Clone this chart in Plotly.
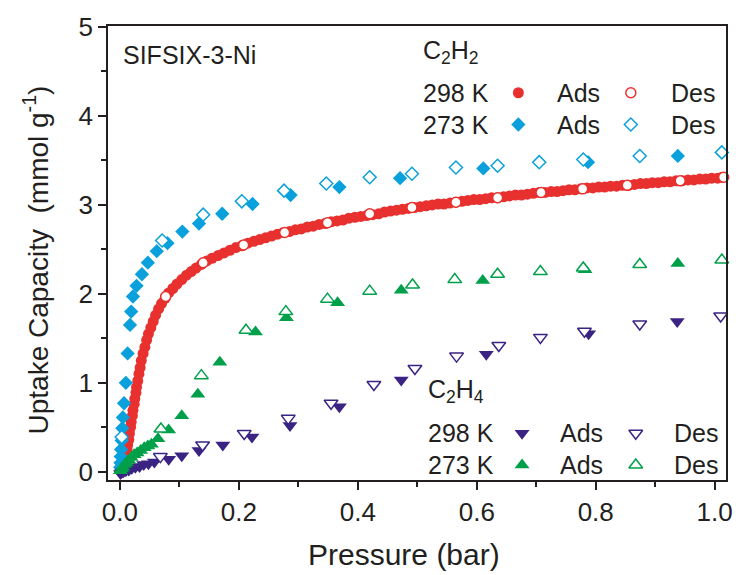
import plotly.graph_objects as go

# ---------------- data ----------------
# C2H2 298 K adsorption (dense)
c2h2_298_ads_p = [0.001, 0.002, 0.003, 0.004, 0.005, 0.006, 0.007, 0.008, 0.009, 0.010,
                  0.012, 0.013, 0.015, 0.016, 0.018, 0.019, 0.021, 0.022, 0.024, 0.025,
                  0.027, 0.028, 0.030, 0.032, 0.034, 0.036, 0.039, 0.042, 0.045, 0.048,
                  0.052, 0.056, 0.060, 0.065, 0.070, 0.076, 0.082, 0.089, 0.096, 0.104,
                  0.112, 0.120, 0.128, 0.137, 0.146, 0.155, 0.165, 0.175, 0.185, 0.195,
                  0.205, 0.215, 0.225, 0.235, 0.245, 0.255, 0.265, 0.275, 0.285, 0.295,
                  0.305, 0.315, 0.325, 0.335, 0.345, 0.355, 0.365, 0.375, 0.385, 0.395,
                  0.405, 0.415, 0.425, 0.435, 0.445, 0.455, 0.465, 0.475, 0.485, 0.495,
                  0.505, 0.515, 0.525, 0.535, 0.545, 0.555, 0.565, 0.575, 0.585, 0.595,
                  0.605, 0.615, 0.625, 0.635, 0.645, 0.655, 0.665, 0.675, 0.685, 0.695,
                  0.705, 0.715, 0.725, 0.735, 0.745, 0.755, 0.765, 0.775, 0.785, 0.795,
                  0.805, 0.815, 0.825, 0.835, 0.845, 0.855, 0.865, 0.875, 0.885, 0.895,
                  0.905, 0.915, 0.925, 0.935, 0.945, 0.955, 0.965, 0.975, 0.985, 0.995,
                  1.005, 1.012]
c2h2_298_ads_u = [0.01, 0.02, 0.03, 0.05, 0.06, 0.08, 0.10, 0.13, 0.16, 0.20,
                  0.25, 0.30, 0.36, 0.43, 0.50, 0.56, 0.63, 0.69, 0.76, 0.82,
                  0.89, 0.95, 1.02, 1.10, 1.17, 1.25, 1.33, 1.40, 1.48, 1.55,
                  1.62, 1.69, 1.76, 1.83, 1.89, 1.95, 2.01, 2.06, 2.11, 2.16,
                  2.21, 2.25, 2.29, 2.33, 2.37, 2.40, 2.43, 2.46, 2.49, 2.52,
                  2.54, 2.57, 2.59, 2.61, 2.63, 2.65, 2.67, 2.69, 2.70, 2.72,
                  2.73, 2.75, 2.76, 2.78, 2.79, 2.81, 2.82, 2.83, 2.85, 2.86,
                  2.87, 2.88, 2.89, 2.90, 2.92, 2.93, 2.94, 2.95, 2.96, 2.97,
                  2.98, 2.99, 3.00, 3.01, 3.01, 3.02, 3.03, 3.04, 3.05, 3.06,
                  3.06, 3.07, 3.08, 3.08, 3.09, 3.10, 3.11, 3.11, 3.12, 3.13,
                  3.14, 3.14, 3.15, 3.15, 3.16, 3.17, 3.17, 3.18, 3.19, 3.19,
                  3.20, 3.20, 3.21, 3.21, 3.22, 3.22, 3.23, 3.24, 3.24, 3.25,
                  3.25, 3.26, 3.26, 3.27, 3.27, 3.28, 3.28, 3.29, 3.29, 3.30,
                  3.30, 3.31]
c2h2_298_des_p = [1.015, 0.942, 0.853, 0.778, 0.708, 0.635, 0.565, 0.491, 0.420, 0.349,
                  0.277, 0.208, 0.140, 0.077]
c2h2_298_des_u = [3.31, 3.27, 3.22, 3.18, 3.14, 3.08, 3.03, 2.97, 2.90, 2.80,
                  2.69, 2.55, 2.35, 1.97]

# C2H2 273 K
c2h2_273_ads_p = [0.0005, 0.001, 0.0015, 0.002, 0.003, 0.004, 0.005, 0.007, 0.010, 0.013,
                  0.017, 0.019, 0.022, 0.028, 0.037, 0.047, 0.062, 0.080, 0.105, 0.133,
                  0.172, 0.223, 0.287, 0.369, 0.471, 0.611, 0.787, 0.938]
c2h2_273_ads_u = [0.05, 0.10, 0.17, 0.25, 0.35, 0.49, 0.61, 0.77, 1.00, 1.33,
                  1.65, 1.80, 1.97, 2.09, 2.22, 2.35, 2.48, 2.57, 2.70, 2.79,
                  2.90, 3.01, 3.11, 3.20, 3.30, 3.41, 3.48, 3.55]
c2h2_273_des_p = [1.012, 0.874, 0.779, 0.705, 0.635, 0.565, 0.491, 0.420, 0.347, 0.276,
                  0.205, 0.140, 0.071, 0.003]
c2h2_273_des_u = [3.59, 3.55, 3.51, 3.48, 3.44, 3.42, 3.35, 3.31, 3.24, 3.16,
                  3.04, 2.89, 2.60, 0.39]

# C2H4 298 K
c2h4_298_ads_p = [0.001, 0.003, 0.006, 0.010, 0.015, 0.020, 0.026, 0.033, 0.040, 0.048,
                  0.058, 0.082, 0.104, 0.133, 0.173, 0.222, 0.286, 0.369, 0.473, 0.616,
                  0.788, 0.937]
c2h4_298_ads_u = [-0.02, -0.01, 0.00, 0.01, 0.02, 0.04, 0.05, 0.06, 0.08, 0.09,
                  0.11, 0.14, 0.18, 0.24, 0.30, 0.39, 0.52, 0.73, 1.03, 1.32,
                  1.55, 1.69]
c2h4_298_des_p = [1.010, 0.874, 0.781, 0.707, 0.637, 0.566, 0.496, 0.427, 0.355, 0.283,
                  0.209, 0.139, 0.068]
c2h4_298_des_u = [1.75, 1.66, 1.58, 1.51, 1.42, 1.30, 1.16, 0.98, 0.77, 0.60,
                  0.43, 0.30, 0.17]

# C2H4 273 K
c2h4_273_ads_p = [0.001, 0.003, 0.005, 0.008, 0.011, 0.015, 0.019, 0.024, 0.029, 0.035,
                  0.041, 0.047, 0.053, 0.064, 0.082, 0.104, 0.131, 0.168, 0.228, 0.280,
                  0.366, 0.473, 0.610, 0.782, 0.938]
c2h4_273_ads_u = [0.01, 0.03, 0.05, 0.08, 0.10, 0.13, 0.16, 0.19, 0.21, 0.24,
                  0.27, 0.29, 0.31, 0.37, 0.47, 0.63, 0.87, 1.23, 1.57, 1.73,
                  1.90, 2.04, 2.15, 2.27, 2.34]
c2h4_273_des_p = [1.012, 0.874, 0.779, 0.707, 0.635, 0.563, 0.492, 0.420, 0.349, 0.279,
                  0.212, 0.137, 0.069]
c2h4_273_des_u = [2.38, 2.33, 2.29, 2.25, 2.22, 2.16, 2.10, 2.03, 1.94, 1.80,
                  1.59, 1.08, 0.48]

x_ticks = [0.0, 0.2, 0.4, 0.6, 0.8, 1.0]
x_tick_labels = ["0.0", "0.2", "0.4", "0.6", "0.8", "1.0"]
y_ticks = [0, 1, 2, 3, 4, 5]
y_tick_labels = ["0", "1", "2", "3", "4", "5"]

# ---------------- styles ----------------
RED = "#E8312F"
BLUE = "#0AA0DC"
GREEN = "#00A04A"
PURPLE = "#3A2382"
TXT = "#231F20"
FONT = "Arial, Liberation Sans, sans-serif"

fig = go.Figure()


def add(p, u, symbol, color, filled, size):
    fig.add_trace(go.Scatter(
        x=p, y=u, mode="markers", cliponaxis=False, showlegend=False,
        marker=dict(symbol=symbol, size=size,
                    color=color if filled else "white",
                    line=dict(color=color, width=0 if filled else 1.5))))


add(c2h2_298_ads_p, c2h2_298_ads_u, "circle", RED, True, 11)
add(c2h2_298_des_p, c2h2_298_des_u, "circle", RED, False, 10)
add(c2h2_273_ads_p, c2h2_273_ads_u, "diamond", BLUE, True, 11)
add(c2h2_273_des_p, c2h2_273_des_u, "diamond", BLUE, False, 10)
add(c2h4_298_ads_p, c2h4_298_ads_u, "triangle-down", PURPLE, True, 13)
add(c2h4_298_des_p, c2h4_298_des_u, "triangle-down", PURPLE, False, 12)
add(c2h4_273_ads_p, c2h4_273_ads_u, "triangle-up", GREEN, True, 13)
add(c2h4_273_des_p, c2h4_273_des_u, "triangle-up", GREEN, False, 12)

# legend-like key markers on an overlay axis (fractions of plot area)
key_items = [
    (0.664, 0.853, "circle", RED, True, 11),
    (0.846, 0.853, "circle", RED, False, 10),
    (0.664, 0.783, "diamond", BLUE, True, 11),
    (0.846, 0.783, "diamond", BLUE, False, 10),
    (0.670, 0.103, "triangle-down", PURPLE, True, 13),
    (0.854, 0.103, "triangle-down", PURPLE, False, 12),
    (0.670, 0.033, "triangle-up", GREEN, True, 13),
    (0.854, 0.033, "triangle-up", GREEN, False, 12),
]
for kx, ky, sym, col, filled, sz in key_items:
    fig.add_trace(go.Scatter(
        x=[kx], y=[ky], xaxis="x2", yaxis="y2", mode="markers",
        showlegend=False, cliponaxis=False,
        marker=dict(symbol=sym, size=sz, color=col if filled else "white",
                    line=dict(color=col, width=0 if filled else 1.5))))

axis_common = dict(
    showline=True, linecolor="#231F20", linewidth=1.5, mirror=True,
    ticks="outside", ticklen=8, tickwidth=1.5, tickcolor="#231F20",
    showgrid=False, zeroline=False,
    tickfont=dict(family=FONT, size=26, color=TXT),
)

fig.update_layout(
    width=745, height=575,
    margin=dict(l=108, r=12, t=24, b=95),
    paper_bgcolor="white", plot_bgcolor="white",
    xaxis=dict(range=[-0.02, 1.019], tickvals=x_ticks, ticktext=x_tick_labels,
               minor=dict(dtick=0.1, tick0=0, ticks="outside", ticklen=5,
                          tickwidth=1.5, tickcolor="#231F20"),
               **axis_common),
    yaxis=dict(range=[-0.093, 5.011], tickvals=y_ticks, ticktext=y_tick_labels,
               minor=dict(dtick=0.5, tick0=0, ticks="outside", ticklen=5,
                          tickwidth=1.5, tickcolor="#231F20"),
               **axis_common),
    xaxis2=dict(overlaying="x", range=[0, 1], visible=False, anchor="y2"),
    yaxis2=dict(overlaying="y", range=[0, 1], visible=False, anchor="x2"),
    showlegend=False,
)

ann_font = dict(family=FONT, size=25, color=TXT)
annotations = [
    dict(x=0.0208, y=0.936, text="SIFSIX-3-Ni", xanchor="left", yanchor="middle"),
    dict(x=0.507, y=0.943, text="C<sub>2</sub>H<sub>2</sub>", xanchor="left", yanchor="middle"),
    dict(x=0.507, y=0.853, text="298 K", xanchor="left", yanchor="middle"),
    dict(x=0.723, y=0.853, text="Ads", xanchor="left", yanchor="middle"),
    dict(x=0.907, y=0.853, text="Des", xanchor="left", yanchor="middle"),
    dict(x=0.507, y=0.783, text="273 K", xanchor="left", yanchor="middle"),
    dict(x=0.723, y=0.783, text="Ads", xanchor="left", yanchor="middle"),
    dict(x=0.907, y=0.783, text="Des", xanchor="left", yanchor="middle"),
    dict(x=0.515, y=0.195, text="C<sub>2</sub>H<sub>4</sub>", xanchor="left", yanchor="middle"),
    dict(x=0.515, y=0.103, text="298 K", xanchor="left", yanchor="middle"),
    dict(x=0.728, y=0.103, text="Ads", xanchor="left", yanchor="middle"),
    dict(x=0.912, y=0.103, text="Des", xanchor="left", yanchor="middle"),
    dict(x=0.515, y=0.033, text="273 K", xanchor="left", yanchor="middle"),
    dict(x=0.728, y=0.033, text="Ads", xanchor="left", yanchor="middle"),
    dict(x=0.912, y=0.033, text="Des", xanchor="left", yanchor="middle"),
]
for a in annotations:
    fig.add_annotation(xref="paper", yref="paper", showarrow=False, font=ann_font, **a)

# axis titles
fig.add_annotation(xref="paper", yref="paper", x=0.479, y=-0.165, showarrow=False,
                   text="Pressure (bar)", xanchor="center", yanchor="middle",
                   font=dict(family=FONT, size=30, color=TXT))
fig.add_annotation(xref="paper", yref="paper", x=-0.117, y=0.485, showarrow=False,
                   text="Uptake Capacity&nbsp; (mmol g<sup>-1</sup>)", textangle=-90,
                   xanchor="center", yanchor="middle",
                   font=dict(family=FONT, size=28, color=TXT))

fig.write_html("out.html")
